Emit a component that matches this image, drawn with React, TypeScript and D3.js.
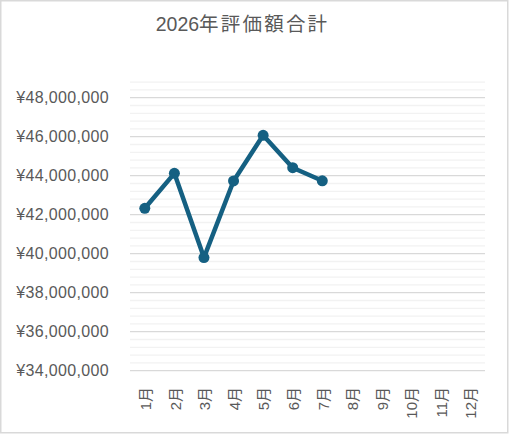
import { useEffect, useRef } from 'react'
import * as d3 from 'd3'

const months = ['1月', '2月', '3月', '4月', '5月', '6月', '7月', '8月', '9月', '10月', '11月', '12月']
const values = [42330000, 44120000, 39800000, 43730000, 46070000, 44410000, 43740000]
const yTicks = [34000000, 36000000, 38000000, 40000000, 42000000, 44000000, 46000000, 48000000]
const titleYear = '2026'
const titleRest = '年評価額合計'

export default function App() {
  const svgRef = useRef<SVGSVGElement>(null)

  useEffect(() => {
    if (!svgRef.current) return
    const svg = d3.select(svgRef.current)
    svg.selectAll('*').remove()

    const width = 509
    const height = 435
    const font = '"Liberation Sans", Arial, "Noto Sans CJK JP", sans-serif'

    svg.attr('width', width).attr('height', height)

    svg.append('rect')
      .attr('x', 0.75).attr('y', 0.75)
      .attr('width', 507).attr('height', 432)
      .attr('fill', '#fff')
      .attr('stroke', '#d9d9d9')
      .attr('stroke-width', 1.5)

    const left = 130
    const right = 485
    const y = d3.scaleLinear().domain([34000000, 48000000]).range([370.7, 97.7])
    const x = d3.scaleBand<string>().domain(months).range([left, right])

    // minor gridlines
    const minors = d3.range(34000000, 48800001, 400000).filter(v => v % 2000000 !== 0)
    svg.append('g')
      .selectAll('line')
      .data(minors)
      .enter()
      .append('line')
      .attr('x1', left).attr('x2', right)
      .attr('y1', d => y(d)).attr('y2', d => y(d))
      .attr('stroke', '#f2f2f2')
      .attr('stroke-width', 1.3)

    svg.append('g')
      .selectAll('line')
      .data(yTicks)
      .enter()
      .append('line')
      .attr('x1', left).attr('x2', right)
      .attr('y1', d => y(d)).attr('y2', d => y(d))
      .attr('stroke', '#d9d9d9')
      .attr('stroke-width', 1.3)

    const fmt = d3.format(',')
    svg.append('g')
      .selectAll('text')
      .data(yTicks)
      .enter()
      .append('text')
      .attr('x', 109)
      .attr('y', d => y(d))
      .attr('dy', '0.36em')
      .attr('text-anchor', 'end')
      .attr('font-family', font)
      .attr('font-size', 16)
      .attr('letter-spacing', 0.35)
      .attr('fill', '#595959')
      .text(d => '¥' + fmt(d))

    svg.append('g')
      .selectAll('text')
      .data(months)
      .enter()
      .append('text')
      .attr('transform', d => `translate(${x(d)! + x.bandwidth() / 2 + 1},387) rotate(-90)`)
      .attr('dy', '0.35em')
      .attr('text-anchor', 'end')
      .attr('font-family', font)
      .attr('font-size', 15)
      .attr('fill', '#595959')
      .text(d => d)

    const line = d3.line<number>()
      .x((_, i) => x(months[i])! + x.bandwidth() / 2)
      .y(d => y(d))

    svg.append('path')
      .datum(values)
      .attr('d', line)
      .attr('fill', 'none')
      .attr('stroke', '#156082')
      .attr('stroke-width', 4.5)
      .attr('stroke-linejoin', 'round')

    svg.append('g')
      .selectAll('circle')
      .data(values)
      .enter()
      .append('circle')
      .attr('cx', (_, i) => x(months[i])! + x.bandwidth() / 2)
      .attr('cy', d => y(d))
      .attr('r', 5.5)
      .attr('fill', '#156082')

    const t = svg.append('text')
      .attr('x', 242.5)
      .attr('y', 30.5)
      .attr('text-anchor', 'middle')
      .attr('font-family', font)
      .attr('font-size', 19.5)
      .attr('fill', '#595959')
    t.append('tspan').text(titleYear)
    t.append('tspan').attr('letter-spacing', 2.2).text(titleRest)
  }, [])

  return (
    <div style={{ position: 'absolute', left: 0, top: 0 }}>
      <svg ref={svgRef} style={{ display: 'block' }} />
    </div>
  )
}
